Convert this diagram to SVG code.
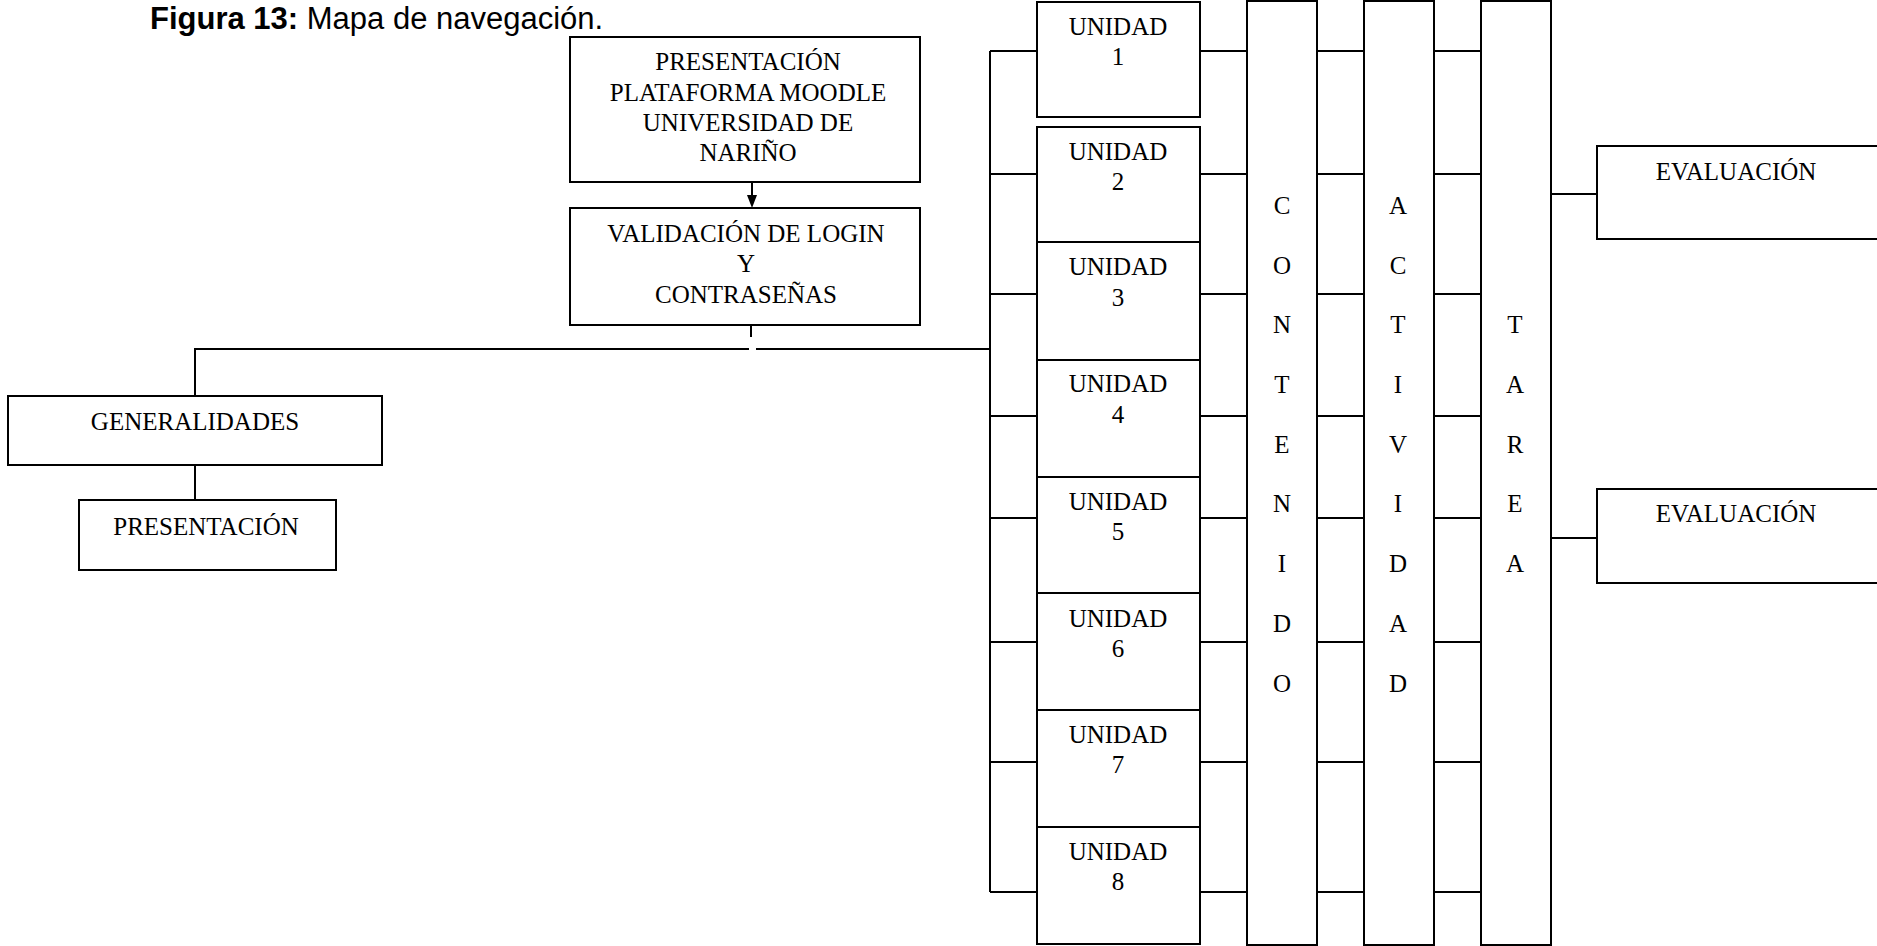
<svg xmlns="http://www.w3.org/2000/svg" width="1877" height="946" viewBox="0 0 1877 946">
<style>
.box{fill:#fff;stroke:#000;stroke-width:2}
.ln{stroke:#000;stroke-width:2;fill:none}
.t{font-family:"Liberation Serif","Times New Roman",serif;font-size:25px;fill:#000;text-anchor:middle}
.title{font-family:"Liberation Sans",Arial,sans-serif;font-size:31px;fill:#000}
</style>
<defs>
<marker id="arr" markerWidth="10" markerHeight="13" refX="5" refY="13" orient="auto" markerUnits="userSpaceOnUse" viewBox="0 0 10 13">
<path d="M0,0 L10,0 L5,13 Z" fill="#000"/>
</marker>
</defs>
<rect width="1877" height="946" fill="#fff"/>
<text class="title" x="150" y="29"><tspan font-weight="bold">Figura 13:</tspan> Mapa de navegación.</text>

<g id="connectors">
<line class="ln" x1="752" y1="182" x2="752" y2="195"/>
<path d="M747,195 L757,195 L752,208 Z" fill="#000"/>
<line class="ln" x1="751" y1="325" x2="751" y2="337"/>
<path class="ln" d="M749,349 H195 V396"/>
<line class="ln" x1="756" y1="349" x2="990" y2="349"/>
<line class="ln" x1="195" y1="455" x2="195" y2="500"/>
<line class="ln" x1="990" y1="51" x2="990" y2="892"/>
<path class="ln" d="M990,51H1037M1200,51H1247M1317,51H1364M1434,51H1481
M990,174H1037M1200,174H1247M1317,174H1364M1434,174H1481
M990,294H1037M1200,294H1247M1317,294H1364M1434,294H1481
M990,416H1037M1200,416H1247M1317,416H1364M1434,416H1481
M990,518H1037M1200,518H1247M1317,518H1364M1434,518H1481
M990,642H1037M1200,642H1247M1317,642H1364M1434,642H1481
M990,762H1037M1200,762H1247M1317,762H1364M1434,762H1481
M990,892H1037M1200,892H1247M1317,892H1364M1434,892H1481"/>
<line class="ln" x1="1551" y1="194" x2="1597" y2="194"/>
<line class="ln" x1="1551" y1="538" x2="1597" y2="538"/>
</g>

<g id="presentacion-plataforma">
<rect class="box" x="570" y="37" width="350" height="145"/>
<text class="t" x="748" y="70">PRESENTACIÓN</text>
<text class="t" x="748" y="101">PLATAFORMA MOODLE</text>
<text class="t" x="748" y="131">UNIVERSIDAD DE</text>
<text class="t" x="748" y="161">NARIÑO</text>
</g>
<g id="validacion">
<rect class="box" x="570" y="208" width="350" height="117"/>
<text class="t" x="746" y="242">VALIDACIÓN DE LOGIN</text>
<text class="t" x="746" y="272">Y</text>
<text class="t" x="746" y="303">CONTRASEÑAS</text>
</g>
<g id="generalidades">
<rect class="box" x="8" y="396" width="374" height="69"/>
<text class="t" x="195" y="430">GENERALIDADES</text>
</g>
<g id="presentacion">
<rect class="box" x="79" y="500" width="257" height="70"/>
<text class="t" x="206" y="535">PRESENTACIÓN</text>
</g>

<g id="unidad1"><rect class="box" x="1037" y="2" width="163" height="115"/><text class="t" x="1118" y="35">UNIDAD</text><text class="t" x="1118" y="65">1</text></g>
<g id="unidad2"><rect class="box" x="1037" y="127" width="163" height="115"/><text class="t" x="1118" y="160">UNIDAD</text><text class="t" x="1118" y="190">2</text></g>
<g id="unidad3"><rect class="box" x="1037" y="242" width="163" height="118"/><text class="t" x="1118" y="275">UNIDAD</text><text class="t" x="1118" y="306">3</text></g>
<g id="unidad4"><rect class="box" x="1037" y="360" width="163" height="117"/><text class="t" x="1118" y="392">UNIDAD</text><text class="t" x="1118" y="423">4</text></g>
<g id="unidad5"><rect class="box" x="1037" y="477" width="163" height="116"/><text class="t" x="1118" y="510">UNIDAD</text><text class="t" x="1118" y="540">5</text></g>
<g id="unidad6"><rect class="box" x="1037" y="593" width="163" height="117"/><text class="t" x="1118" y="627">UNIDAD</text><text class="t" x="1118" y="657">6</text></g>
<g id="unidad7"><rect class="box" x="1037" y="710" width="163" height="117"/><text class="t" x="1118" y="743">UNIDAD</text><text class="t" x="1118" y="773">7</text></g>
<g id="unidad8"><rect class="box" x="1037" y="827" width="163" height="117"/><text class="t" x="1118" y="860">UNIDAD</text><text class="t" x="1118" y="890">8</text></g>

<g id="contenido">
<rect class="box" x="1247" y="1" width="70" height="944"/>
<text class="t" x="1282" y="214">C</text><text class="t" x="1282" y="274">O</text><text class="t" x="1282" y="333">N</text><text class="t" x="1282" y="393">T</text><text class="t" x="1282" y="453">E</text><text class="t" x="1282" y="512">N</text><text class="t" x="1282" y="572">I</text><text class="t" x="1282" y="632">D</text><text class="t" x="1282" y="692">O</text>
</g>
<g id="actividad">
<rect class="box" x="1364" y="1" width="70" height="944"/>
<text class="t" x="1398" y="214">A</text><text class="t" x="1398" y="274">C</text><text class="t" x="1398" y="333">T</text><text class="t" x="1398" y="393">I</text><text class="t" x="1398" y="453">V</text><text class="t" x="1398" y="512">I</text><text class="t" x="1398" y="572">D</text><text class="t" x="1398" y="632">A</text><text class="t" x="1398" y="692">D</text>
</g>
<g id="tarea">
<rect class="box" x="1481" y="1" width="70" height="944"/>
<text class="t" x="1515" y="333">T</text><text class="t" x="1515" y="393">A</text><text class="t" x="1515" y="453">R</text><text class="t" x="1515" y="512">E</text><text class="t" x="1515" y="572">A</text>
</g>
<g id="evaluacion1">
<rect class="box" x="1597" y="146" width="300" height="93"/>
<text class="t" x="1736" y="180">EVALUACIÓN</text>
</g>
<g id="evaluacion2">
<rect class="box" x="1597" y="489" width="300" height="94"/>
<text class="t" x="1736" y="522">EVALUACIÓN</text>
</g>
</svg>
